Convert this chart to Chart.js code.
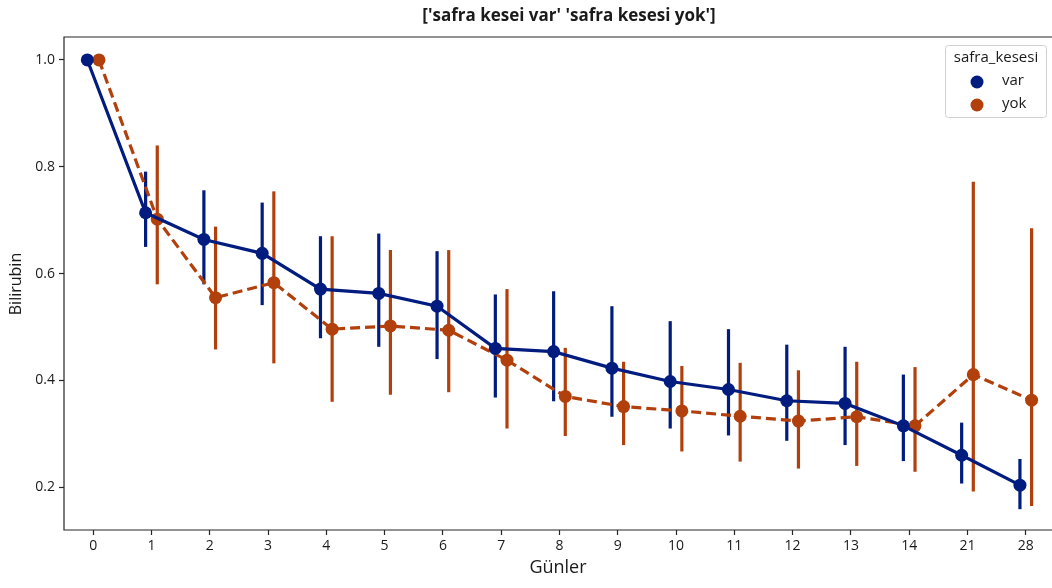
<!DOCTYPE html>
<html>
<head>
<title>Bilirubin - safra kesesi</title>
<script src="https://cdn.jsdelivr.net/npm/chart.js@4.4.1/dist/chart.umd.min.js"></script>
<style>
  body { margin: 0; background: #fff; }
  #container { width: 1052px; height: 588px; }
</style>
</head>
<body>
<div id="container">
  <canvas id="canvas" width="1052" height="588"></canvas></div>
<script>

// gün kategorileri (x ekseni)
var days = ['0', '1', '2', '3', '4', '5', '6', '7', '8', '9', '10', '11', '12', '13', '14', '21', '28'];

// safra kesesi var: ortalama ve güven aralığı
var varMean = [1.0, 0.714, 0.664, 0.638, 0.571, 0.563, 0.539, 0.460, 0.454, 0.423, 0.398, 0.383, 0.362, 0.357, 0.315, 0.260, 0.204];
var varLow  = [1.0, 0.650, 0.580, 0.541, 0.479, 0.463, 0.440, 0.368, 0.361, 0.332, 0.310, 0.297, 0.287, 0.279, 0.249, 0.207, 0.159];
var varHigh = [1.0, 0.791, 0.756, 0.733, 0.670, 0.675, 0.642, 0.561, 0.567, 0.539, 0.511, 0.496, 0.467, 0.463, 0.411, 0.321, 0.253];

// safra kesesi yok
var yokMean = [1.0, 0.702, 0.555, 0.583, 0.496, 0.502, 0.494, 0.438, 0.370, 0.351, 0.343, 0.333, 0.324, 0.332, 0.315, 0.411, 0.363];
var yokLow  = [1.0, 0.580, 0.458, 0.432, 0.360, 0.373, 0.378, 0.310, 0.296, 0.279, 0.267, 0.248, 0.235, 0.240, 0.229, 0.192, 0.165];
var yokHigh = [1.0, 0.840, 0.688, 0.754, 0.670, 0.644, 0.644, 0.571, 0.461, 0.435, 0.427, 0.433, 0.419, 0.435, 0.425, 0.772, 0.685];

var yTicks = [0.2, 0.4, 0.6, 0.8, 1.0];

var groupNames = ['var', 'yok'];
var groupColors = ['#001c7f', '#b1400d'];
var dodge = 0.1;

var fontFamily = "'Open Sans', 'DejaVu Sans', sans-serif";
var textColor = '#1a1a1a';

function points(values, offset) {
  return values.map(function (v, i) { return { x: i + offset, y: v }; });
}

// error bars (pointplot ci) drawn from the low/high arrays
var errorBars = {
  id: 'errorBars',
  beforeDatasetsDraw: function (chart) {
    var ctx = chart.ctx;
    var xs = chart.scales.x, ys = chart.scales.y;
    var sets = [[varLow, varHigh, -dodge], [yokLow, yokHigh, dodge]];
    ctx.save();
    ctx.lineWidth = 3.2;
    sets.forEach(function (s, k) {
      ctx.strokeStyle = groupColors[k];
      for (var i = 0; i < days.length; i++) {
        if (s[0][i] === s[1][i]) continue;
        var x = xs.getPixelForValue(i + s[2]);
        ctx.beginPath();
        ctx.moveTo(x, ys.getPixelForValue(s[0][i]));
        ctx.lineTo(x, ys.getPixelForValue(s[1][i]));
        ctx.stroke();
      }
    });
    ctx.restore();
  }
};

// frame, title, axis labels and legend
var decorations = {
  id: 'decorations',
  afterDraw: function (chart) {
    var ctx = chart.ctx;
    var a = chart.chartArea;
    var w = chart.width;
    ctx.save();

    // axes frame runs off the right edge of the canvas
    ctx.strokeStyle = '#262626';
    ctx.lineWidth = 1.2;
    ctx.beginPath();
    ctx.moveTo(w, a.top);
    ctx.lineTo(a.left, a.top);
    ctx.lineTo(a.left, a.bottom);
    ctx.lineTo(w, a.bottom);
    ctx.stroke();

    ctx.fillStyle = textColor;
    ctx.textAlign = 'center';
    ctx.textBaseline = 'middle';
    ctx.font = 'bold 17px ' + fontFamily;
    ctx.fillText("['safra kesei var' 'safra kesesi yok']", 569, 16);

    ctx.font = '18px ' + fontFamily;
    ctx.fillText('Günler', 558, 568);

    ctx.save();
    ctx.translate(16, 284);
    ctx.rotate(-Math.PI / 2);
    ctx.font = '16px ' + fontFamily;
    ctx.fillText('Bilirubin', 0, 0);
    ctx.restore();

    // legend box, top right inside the axes
    var bx = w - 107, by = a.top + 8, bw = 101, bh = 72;
    ctx.fillStyle = 'rgba(255,255,255,0.8)';
    ctx.strokeStyle = '#d0d0d0';
    ctx.lineWidth = 1;
    ctx.beginPath();
    ctx.roundRect(bx + 0.5, by + 0.5, bw, bh, 3);
    ctx.fill();
    ctx.stroke();

    ctx.fillStyle = textColor;
    ctx.font = '15px ' + fontFamily;
    ctx.fillText('safra_kesesi', bx + 51, by + 13);
    ctx.textAlign = 'left';
    for (var k = 0; k < groupNames.length; k++) {
      var cy = by + 37 + k * 23;
      ctx.fillStyle = groupColors[k];
      ctx.beginPath();
      ctx.arc(bx + 32, cy, 6.5, 0, Math.PI * 2);
      ctx.fill();
      ctx.fillStyle = textColor;
      ctx.fillText(groupNames[k], bx + 57, cy - 1);
    }
    ctx.restore();
  }
};

var ctx = document.getElementById('canvas').getContext('2d');
window.myPointPlot = new Chart(ctx, {
  type: 'line',
  data: {
    datasets: [{
      label: groupNames[0],
      data: points(varMean, -dodge),
      borderColor: groupColors[0],
      backgroundColor: groupColors[0],
      borderWidth: 3.2,
      pointRadius: 6.5,
      pointBorderWidth: 0,
      tension: 0
    }, {
      label: groupNames[1],
      data: points(yokMean, dodge),
      borderColor: groupColors[1],
      backgroundColor: groupColors[1],
      borderWidth: 3.2,
      borderDash: [10, 5],
      pointRadius: 6.5,
      pointBorderWidth: 0,
      tension: 0
    }]
  },
  options: {
    responsive: false,
    animation: false,
    layout: { autoPadding: false, padding: { top: 37, right: 0, left: 0, bottom: 0 } },
    plugins: {
      legend: { display: false },
      title: { display: false },
      tooltip: { enabled: false }
    },
    scales: {
      x: {
        type: 'linear',
        min: -0.5,
        // the last category's half-slot is cut off at the canvas edge
        max: days.length - 0.55,
        afterBuildTicks: function (scale) {
          scale.ticks = days.map(function (d, i) { return { value: i }; });
        },
        afterFit: function (scale) {
          scale.height = 58;
          scale.paddingLeft = 0;
          scale.paddingRight = 0;
        },
        ticks: {
          callback: function (v) { return days[v]; },
          color: textColor,
          font: { family: fontFamily, size: 14 },
          padding: 3,
          maxRotation: 0,
          autoSkip: false
        },
        grid: { drawOnChartArea: false, drawTicks: true, tickLength: 5, color: '#262626', tickWidth: 1.2 },
        border: { display: false }
      },
      y: {
        min: 0.12,
        max: 1.043,
        afterBuildTicks: function (scale) {
          scale.ticks = yTicks.map(function (v) { return { value: v }; });
        },
        afterFit: function (scale) {
          scale.width = 64;
          scale.paddingTop = 0;
          scale.paddingBottom = 0;
        },
        ticks: {
          callback: function (v) { return v.toFixed(1); },
          color: textColor,
          font: { family: fontFamily, size: 14 },
          padding: 4
        },
        grid: { drawOnChartArea: false, drawTicks: true, tickLength: 5, color: '#262626', tickWidth: 1.2 },
        border: { display: false }
      }
    }
  },
  plugins: [errorBars, decorations]
});

</script>
</body>
</html>
